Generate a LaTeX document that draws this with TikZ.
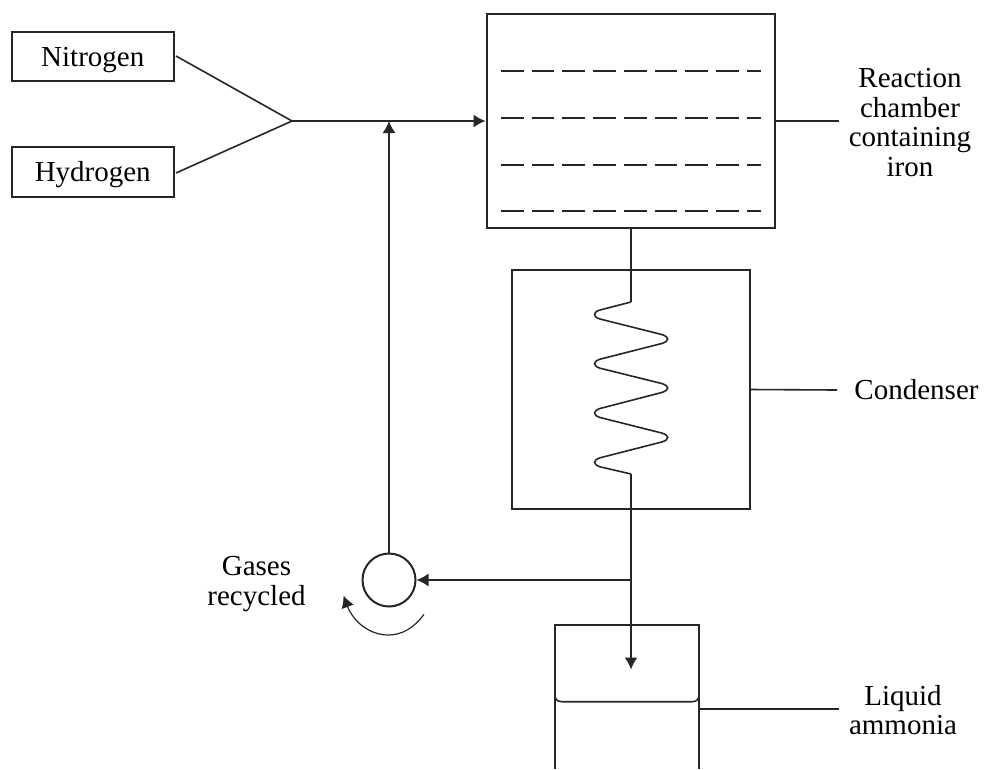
\documentclass[tikz,border=0pt]{standalone}
\usepackage{fontspec}
\setmainfont{Liberation Serif}
\usetikzlibrary{arrows.meta,positioning,calc}
\tikzset{
    box/.style={draw=black!85, line width=2pt, inner sep=0pt, fill=none},
    label/.style={align=center, font=\fontsize{29}{29.5}\selectfont, inner sep=0pt},
    line/.style={draw=black!85, line width=1.6pt},
    arrow/.style={line, -{Latex[length=12pt, width=13pt]}},
    level/.style={line, dash pattern=on 22.7pt off 8pt}
}
\begin{document}
\begin{tikzpicture}[x=1pt, y=-1pt]
    \useasboundingbox (0,0) rectangle (984,769);
    % feed boxes
    \node[box, minimum width=161.5pt, minimum height=48.5pt] (nitrogen) at (92.75,56.25) {};
    \node[label] (nitrogentext) at (92.75,60) {Nitrogen};
    \node[box, minimum width=161.5pt, minimum height=49.5pt] (hydrogen) at (92.75,171.75) {};
    \node[label] (hydrogentext) at (92.75,175) {Hydrogen};
    \coordinate (join) at (292,121);
    \coordinate (nitrogenout) at (176,56);
    \coordinate (hydrogenout) at (176,173);

    % reaction chamber
    \node[box, minimum width=288.5pt, minimum height=214pt] (chamber) at (630.75,121) {};
    \foreach \y in {71,118,165,211}
      \draw[level] (501,\y) -- (761,\y);

    % condenser
    \node[box, minimum width=238pt, minimum height=239pt] (condenser) at (631,389.5) {};
    \coordinate (coiltop) at (631,302);
    \coordinate (coilbot) at (631,474);

    % pump
    \node[circle, draw=black!85, line width=2pt, minimum size=53pt, inner sep=0pt] (pump) at (389,580) {};
    \coordinate (tee) at (631,580);
    \coordinate (riser) at (389,121);
    \coordinate (tankin) at (631,669.5);

    \draw[line] (nitrogenout) -- (join);
    \draw[line] (hydrogenout) -- (join);
    \draw[arrow] (join) -- (chamber.west);
    \draw[arrow] (pump.north) -- (riser);
    \draw[line] (chamber.south -| coiltop) -- (coiltop);
    \draw[line] (coiltop) -- (600,310)
      .. controls (592.7,312) and (592.7,317) .. (600,319)
      -- (661.7,334.5) .. controls (669.7,337) and (669.7,341) .. (661.7,343.5)
      -- (600,359.2) .. controls (592.7,361.7) and (592.7,365.7) .. (600,368.2)
      -- (661.7,383.5) .. controls (669.7,386) and (669.7,390) .. (661.7,392.5)
      -- (600,408.5) .. controls (592.7,411) and (592.7,415) .. (600,417.5)
      -- (661.7,433) .. controls (669.7,435.5) and (669.7,439.5) .. (661.7,442)
      -- (600,457.8) .. controls (592.7,460.3) and (592.7,464.3) .. (600,466.8)
      -- (coilbot);
    \draw[line] (coilbot) -- (tee);
    \draw[arrow] (tee) -- (pump.east);
    \draw[arrow] (tee) -- (tankin);

    % collecting tank
    \draw[box] (554.75,769) -- (554.75,624.75) -- (699.25,624.75) -- (699.25,769);
    \draw[line] (554.75,694) .. controls (554.75,699) and (557,701.7) .. (562,701.7) -- (692,701.7) .. controls (697,701.7) and (699.25,699) .. (699.25,694);

    % rotation arrow
    \coordinate (rotstart) at (424,614.3);
    \coordinate (rotmid) at (388.3,635);
    \coordinate (rotend) at (343.5,595.5);
    \draw[line, line width=1.2pt, -{Latex[length=12pt, width=13pt]}] (rotstart) .. controls (414,628) and (402,635) .. (rotmid)
      .. controls (369,635) and (353,621) .. (rotend);

    % labels
    \node[label] (chamberlabel) at (910,122.5) {Reaction\\chamber\\containing\\iron};
    \node[label] (condenserlabel) at (916.5,390) {Condenser};
    \node[label] (gaseslabel) at (256.5,584) {Gases\\recycled};
    \node[label] (ammonialabel) at (903,710) {Liquid\\ammonia};
    \coordinate (chamberleader) at (839,121);
    \coordinate (condenserleader) at (837,390);
    \coordinate (tankside) at (700,709);
    \coordinate (ammonialeader) at (839,709);
    \draw[line] (chamber.east) -- (chamberleader);
    \draw[line] (condenser.east) -- (condenserleader);
    \draw[line] (tankside) -- (ammonialeader);
\end{tikzpicture}
\end{document}
